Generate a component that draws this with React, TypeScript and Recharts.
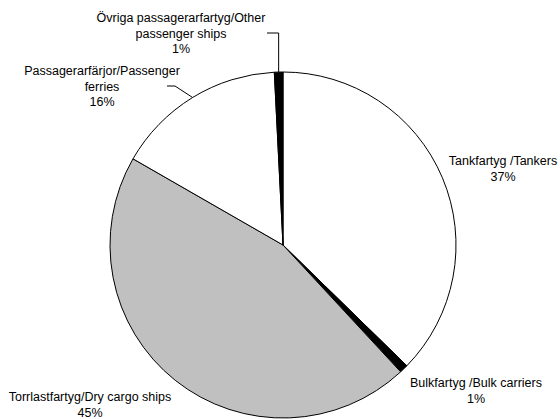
import { PieChart, Pie, Cell } from "recharts";

// ship categories, clockwise from 12 o'clock
const CATEGORIES = [
  "Tankfartyg /Tankers",
  "Bulkfartyg /Bulk carriers",
  "Torrlastfartyg/Dry cargo ships",
  "Passagerarfärjor/Passenger ferries",
  "Övriga passagerarfartyg/Other passenger ships",
];
// share of total (%)
const SHARES = [37.3, 0.8, 45.2, 15.9, 0.8];
// label text, split into lines as in the original
const LABEL_LINES = [
  ["Tankfartyg /Tankers"],
  ["Bulkfartyg /Bulk carriers"],
  ["Torrlastfartyg/Dry cargo ships"],
  ["Passagerarfärjor/Passenger", "ferries"],
  ["Övriga passagerarfartyg/Other", "passenger ships"],
];

const FILLS = ["#ffffff", "#000000", "#c0c0c0", "#ffffff", "#000000"];

// label anchor (center x, first line y) and optional leader elbow
const LABEL_POS = [
  { x: 503, y: 161 },
  { x: 476, y: 383 },
  { x: 90, y: 397 },
  { x: 102, y: 71, elbow: [175, 86], end: [167, 86] },
  { x: 181, y: 18, elbow: null, vert: 33, end: [267, 33] },
];

const LINE_H = 15.5;
const RAD = Math.PI / 180;

const data = CATEGORIES.map((name, i) => ({ name, value: SHARES[i] }));

function renderLabel(props: any) {
  const { cx, cy, midAngle, outerRadius, percent, index } = props;
  const pos: any = LABEL_POS[index];
  const lines = [...LABEL_LINES[index], `${Math.round(percent * 100)}%`];
  const ex = cx + outerRadius * Math.cos(-midAngle * RAD);
  const ey = cy + outerRadius * Math.sin(-midAngle * RAD);
  let leader = null;
  if (pos.elbow) {
    leader = (
      <polyline
        points={`${ex},${ey} ${pos.elbow[0]},${pos.elbow[1]} ${pos.end[0]},${pos.end[1]}`}
        fill="none"
        stroke="#000"
        strokeWidth={1}
      />
    );
  } else if (pos.vert) {
    leader = (
      <polyline
        points={`${ex},${ey} ${ex},${pos.vert} ${pos.end[0]},${pos.end[1]}`}
        fill="none"
        stroke="#000"
        strokeWidth={1}
      />
    );
  }
  return (
    <g key={`lbl-${index}`}>
      {leader}
      <text
        x={pos.x}
        y={pos.y}
        textAnchor="middle"
        fontFamily="'Liberation Sans', Arial, sans-serif"
        fontSize={12.5}
        fill="#000"
      >
        {lines.map((t, i) => (
          <tspan key={i} x={pos.x} y={pos.y + i * LINE_H} dy="0.35em">
            {t}
          </tspan>
        ))}
      </text>
    </g>
  );
}

export default function App() {
  return (
    <div style={{ position: "absolute", left: 0, top: 0, width: 560, height: 419, background: "#fff" }}>
      <PieChart width={560} height={419} margin={{ top: 0, right: 0, bottom: 0, left: 0 }}>
        <Pie
          data={data}
          dataKey="value"
          nameKey="name"
          cx={283}
          cy={245}
          outerRadius={173}
          startAngle={90}
          endAngle={-270}
          stroke="#000"
          strokeWidth={1}
          label={renderLabel}
          labelLine={false}
          isAnimationActive={false}
        >
          {data.map((d, i) => (
            <Cell key={d.name} fill={FILLS[i]} />
          ))}
        </Pie>
      </PieChart>
    </div>
  );
}
